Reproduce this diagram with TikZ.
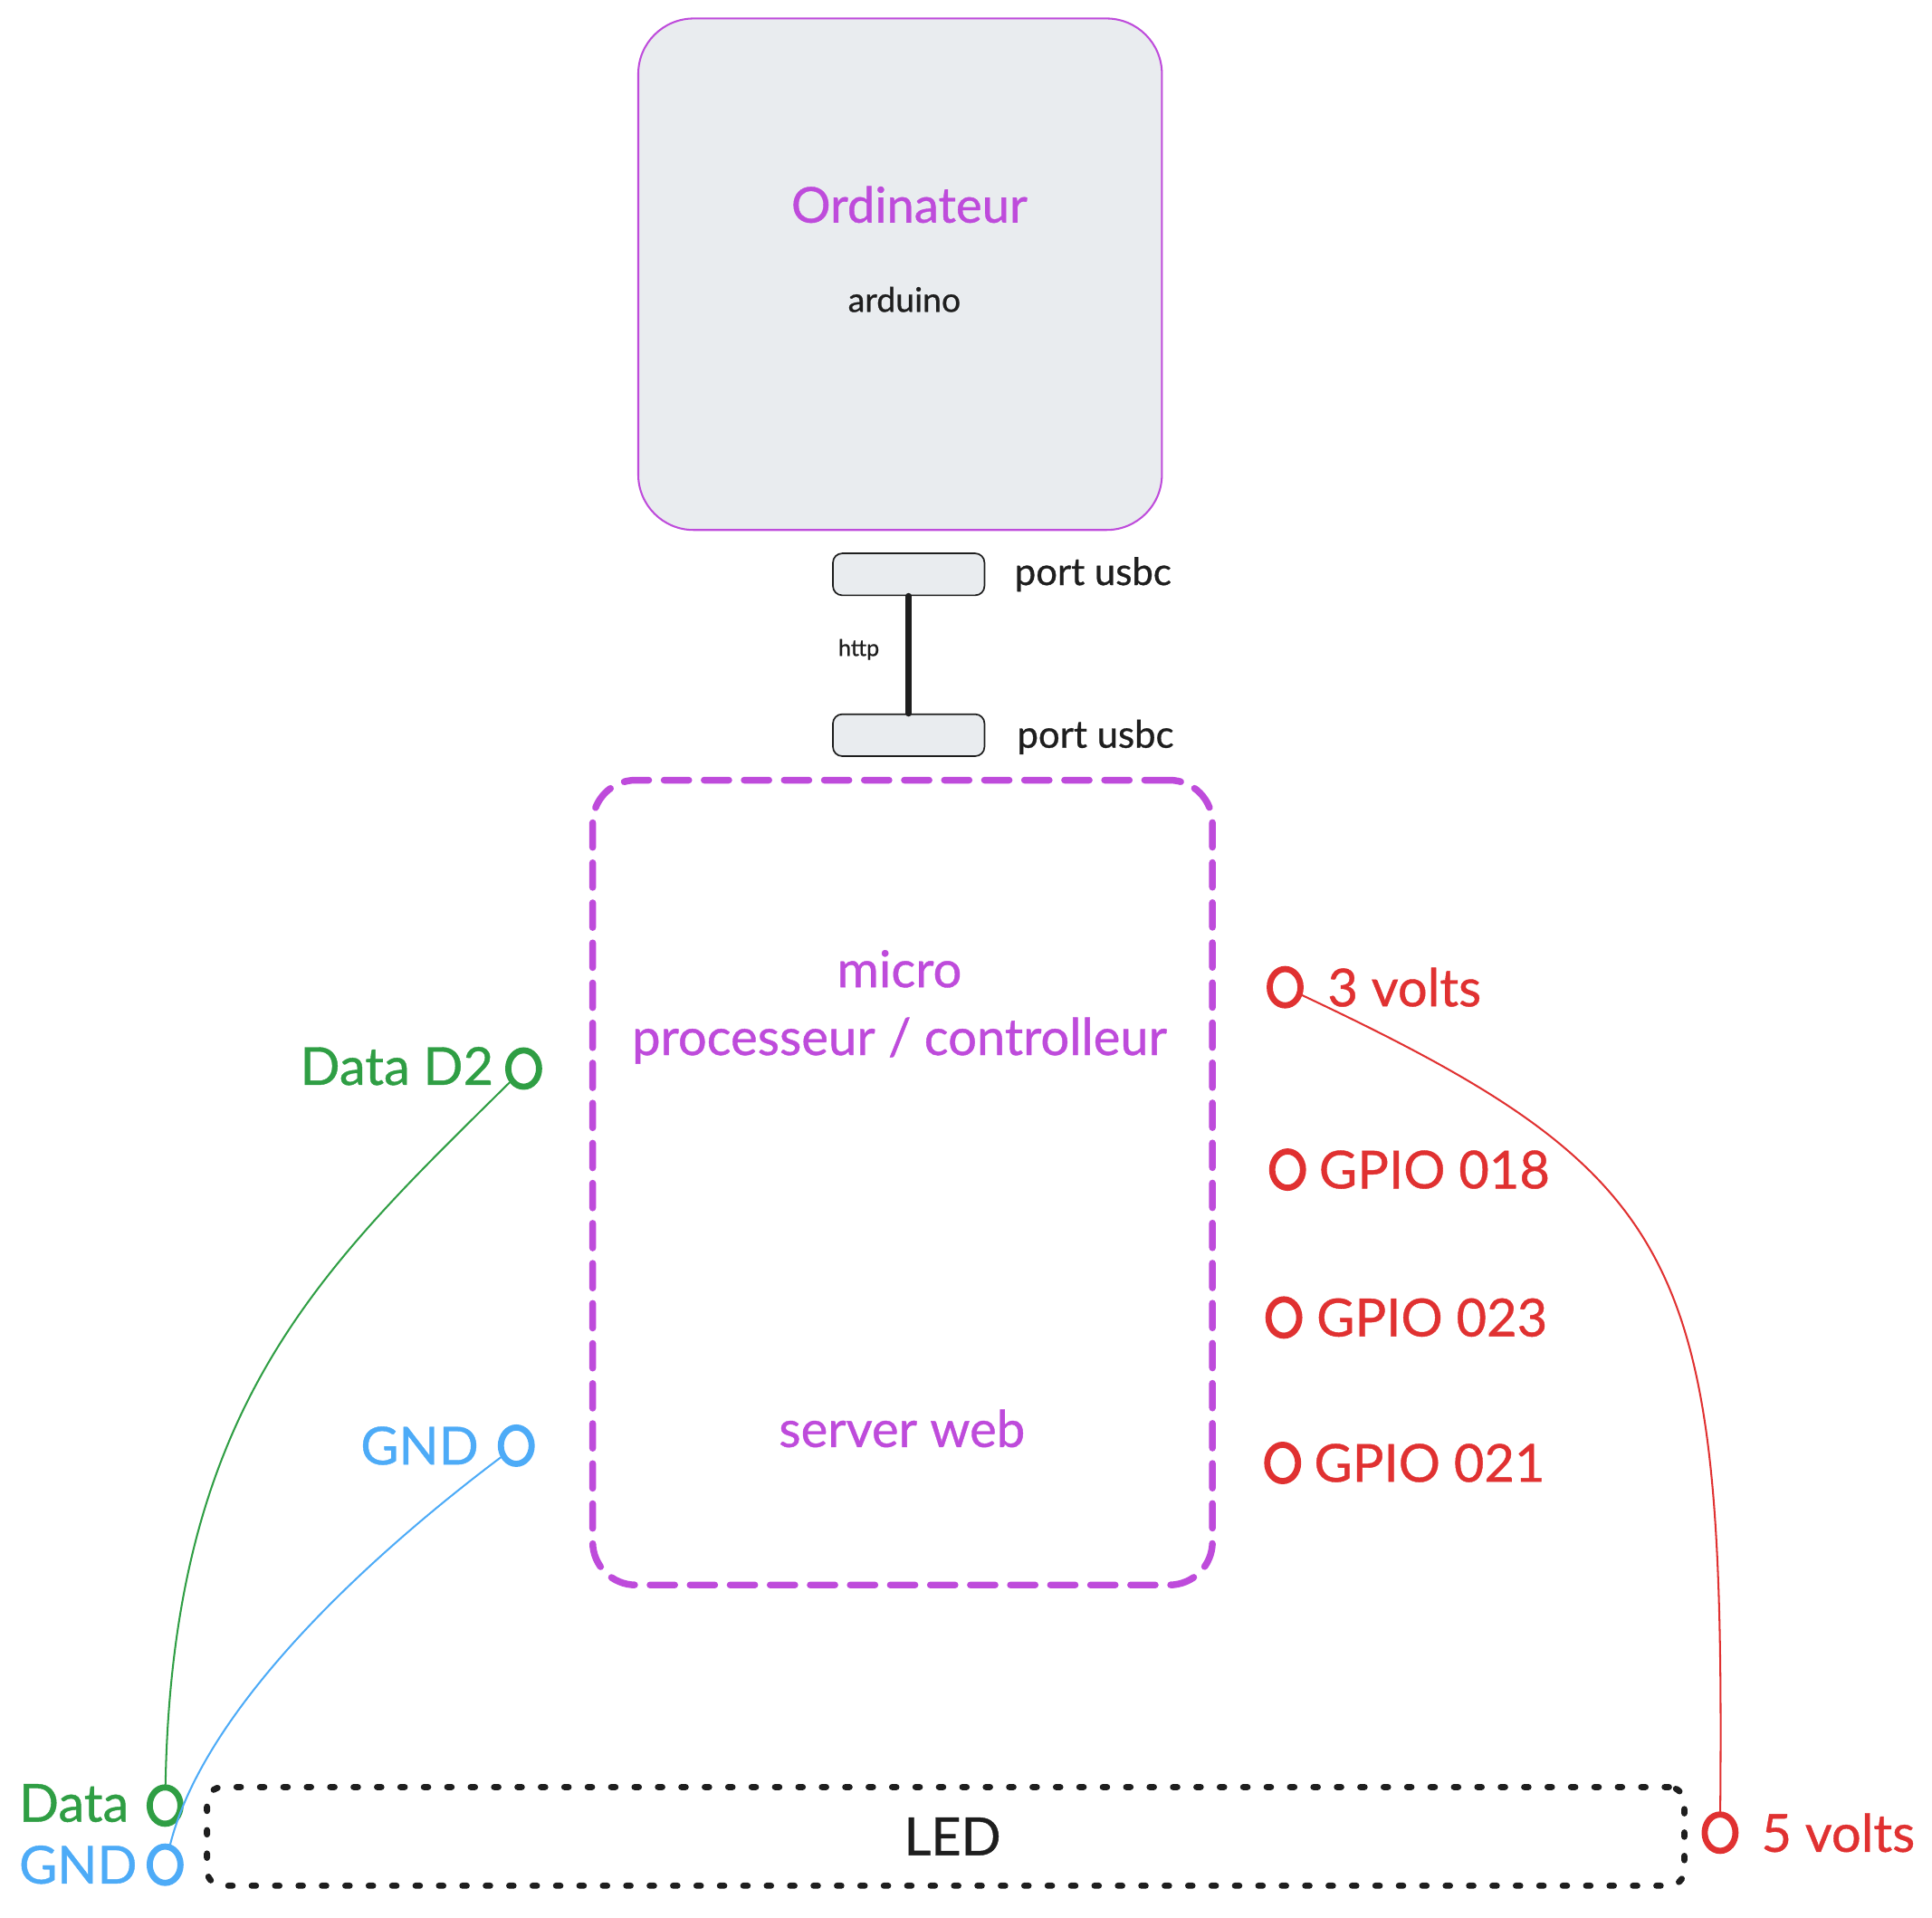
\documentclass[tikz,border=0pt]{standalone}
\usepackage{fontspec}
\setmainfont{Lato}[BoldFont=Lato, BoldFeatures={FakeBold=0.7}]
\usepackage{tikz}
\usetikzlibrary{shapes.geometric}

\definecolor{exviolet}{HTML}{BE4BDB}
\definecolor{exred}{HTML}{E03131}
\definecolor{exgreen}{HTML}{2F9E44}
\definecolor{exblue}{HTML}{4DABF7}
\definecolor{boxgray}{HTML}{E9ECEF}
\definecolor{ink}{HTML}{1E1E1E}

\tikzset{
	txt/.style={inner sep=0pt, text=ink, font=\fontsize{17}{20}\selectfont\bfseries},
	plug/.style={draw, ellipse, line width=2pt, minimum width=10pt, minimum height=11.8pt, inner sep=0pt},
	port/.style={draw=ink, fill=boxgray, line width=0.5pt, rounded corners=3pt, minimum width=49.2pt, minimum height=13.6pt},
	wire/.style={line width=0.6pt}
}

\begin{document}
\begin{tikzpicture}[x=0.4pt,y=-0.4pt,line cap=round]
		\useasboundingbox (0,0) rectangle (1568,1556);
		
		% ordinateur
		\node[draw=exviolet, fill=boxgray, line width=0.6pt, rounded corners=18pt, minimum width=170pt, minimum height=166pt] (ordi) at (730.5,222.5) {};
		\node[txt, text=exviolet, font=\fontsize{16}{19}\selectfont\bfseries] (orditxt) at (738,166) {Ordinateur};
		\node[txt, font=\fontsize{11}{13}\selectfont\bfseries] (arduino) at (734,243) {arduino};
		
		% ports usb
		\node[port] (usbtop) at (737.5,466) {};
		\node[port] (usbbot) at (737.5,596.5) {};
		\node[txt, anchor=west, font=\fontsize{12.3}{15}\selectfont\bfseries] (usbtoptxt) at (823,466) {port usbc};
		\node[txt, anchor=west, font=\fontsize{12.3}{15}\selectfont\bfseries] (usbbottxt) at (825,598) {port usbc};
		\draw[ink, line width=2pt] (usbtop.south) -- (usbbot.north);
		\node[txt, font=\fontsize{7.4}{9}\selectfont\bfseries] (http) at (697,527) {http};
		
		% microcontroleur
		\node[draw=exviolet, line width=2.2pt, dash pattern=on 8pt off 5pt, rounded corners=14pt, minimum width=201.2pt, minimum height=261.2pt] (micro) at (732.5,959.5) {};
		\node[txt, text=exviolet, align=center, font=\fontsize{16.5}{22}\selectfont\bfseries] (microtxt) at (730,817) {micro\\processeur / controlleur};
		\node[txt, text=exviolet, font=\fontsize{16.5}{20}\selectfont\bfseries] (servertxt) at (732,1159) {server web};
		
		% broches droite
		\foreach \nm/\px/\py/\tx/\lbl in {p3v/1043/801/1077/3 volts, p18/1045/949/1070/GPIO 018, p23/1042/1069/1068/GPIO 023, p21/1041/1187/1066/GPIO 021}
		{
			\node[plug, draw=exred] (\nm) at (\px,\py) {};
			\node[txt, text=exred, anchor=west] (\nm-txt) at (\tx,\py) {\lbl};
		}
		
		% broches gauche
		\node[plug, draw=exgreen] (pD2) at (425,867) {};
		\node[txt, text=exgreen, anchor=east] (pD2-txt) at (401,865) {Data D2};
		\node[plug, draw=exblue] (pGND) at (419,1173) {};
		\node[txt, text=exblue, anchor=east] (pGND-txt) at (389,1173) {GND};
		
		% led
		\node[draw=ink, line width=2pt, dash pattern=on 1.4pt off 6.2pt, rounded corners=5pt, minimum width=479.6pt, minimum height=32pt] (led) at (767.5,1490) {};
		\node[txt] (ledtxt) at (773,1490) {LED};
		\node[plug, draw=exgreen] (pData) at (134,1465) {};
		\node[txt, text=exgreen, anchor=west] (pData-txt) at (15,1463) {Data};
		\node[plug, draw=exblue] (pGNDb) at (134,1513) {};
		\node[txt, text=exblue, anchor=west] (pGNDb-txt) at (15,1513) {GND};
		\node[plug, draw=exred] (p5v) at (1396,1487) {};
		\node[txt, text=exred, anchor=west] (p5v-txt) at (1429,1487) {5 volts};
		
		% fils
		\draw[wire, exgreen] (pD2) .. controls (260,1030) and (140,1140) .. (pData);
		\draw[wire, exblue] (pGND) .. controls (290,1270) and (165,1390) .. (pGNDb);
		\draw[wire, exred] (p3v) .. controls (1372,956) and (1400,1022) .. (p5v);
\end{tikzpicture}
\end{document}
